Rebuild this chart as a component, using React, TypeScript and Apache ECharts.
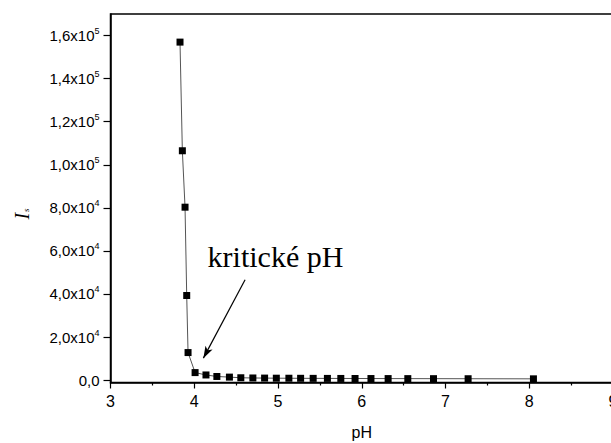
import React, { useEffect, useRef } from "react";
import * as echarts from "echarts";

const phValues = [3.83, 3.858, 3.89, 3.91, 3.926, 4.01, 4.14, 4.27, 4.42, 4.556, 4.7, 4.84, 4.98, 5.13, 5.27, 5.42, 5.59, 5.75, 5.92, 6.11, 6.315, 6.55, 6.857, 7.27, 8.05];
const isValues = [156950, 106500, 80300, 39300, 12800, 3500, 2400, 1700, 1400, 1100, 1000, 950, 900, 880, 850, 820, 800, 780, 760, 740, 720, 700, 680, 650, 600];
const yTickValues = [0, 20000, 40000, 60000, 80000, 100000, 120000, 140000, 160000];
const annotationText = "kritické pH";
const arrowFrom = [4.607, 46580];
const arrowTo = [4.109, 10216];

function formatY(v: number): string {
  if (v === 0) return "{b|0,0}";
  const exp = Math.floor(Math.log10(v));
  const mant = v / Math.pow(10, exp);
  return "{b|" + mant.toFixed(1).replace(".", ",") + "x10}{sup|" + exp + "}";
}

export default function App() {
  const ref = useRef<HTMLDivElement>(null);
  useEffect(() => {
    if (!ref.current) return;
    const chart = echarts.init(ref.current, null, { renderer: "svg" });
    const font = "'Liberation Sans', Arial, sans-serif";
    chart.setOption({
      animation: false,
      backgroundColor: "#fff",
      grid: {
        left: 110.5,
        top: 14,
        right: -2,
        bottom: 60.5,
        show: true,
        borderColor: "#000",
        borderWidth: 1.5,
        containLabel: false,
        outerBoundsMode: "none",
      },
      xAxis: {
        type: "value",
        min: 3,
        max: 9,
        interval: 1,
        name: "pH",
        nameLocation: "middle",
        nameGap: 42,
        nameTextStyle: { fontFamily: font, fontSize: 16, color: "#000" },
        axisLine: { show: true, onZero: false, lineStyle: { color: "#000", width: 1.5 } },
        axisTick: { show: true, inside: false, length: 6, lineStyle: { color: "#000", width: 1.2 } },
        minorTick: { show: true, splitNumber: 2, length: 3, lineStyle: { color: "#000", width: 1.2 } },
        splitLine: { show: false },
        axisLabel: { fontFamily: font, fontSize: 16, color: "#000", margin: 11 },
      },
      yAxis: {
        type: "value",
        min: -1100,
        max: 170000,
        axisLine: { show: true, lineStyle: { color: "#000", width: 1.5 } },
        axisTick: { show: true, inside: false, length: 7, customValues: yTickValues, lineStyle: { color: "#000", width: 1.2 } },
        splitLine: { show: false },
        axisLabel: {
          customValues: yTickValues,
          margin: 11,
          formatter: (v: number) => formatY(v),
          rich: {
            b: { fontFamily: font, fontSize: 15, color: "#000", lineHeight: 18 },
            sup: { fontFamily: font, fontSize: 9, color: "#000", padding: [0, 0, 9, 0] },
          },
        },
      },
      graphic: [
        {
          type: "text",
          x: 275.5,
          y: 256,
          style: {
            text: annotationText,
            fontFamily: "'Liberation Serif', 'Times New Roman', serif",
            fontSize: 30,
            fill: "#000",
            align: "center",
            verticalAlign: "middle",
          },
        },
        {
          type: "text",
          x: 22,
          y: 214,
          rotation: Math.PI / 2,
          style: {
            text: "{i|I}{s|s}",
            align: "center",
            verticalAlign: "middle",
            rich: {
              i: { fontFamily: "'Liberation Serif', serif", fontStyle: "italic", fontSize: 20, fill: "#000", lineHeight: 22 },
              s: { fontFamily: "'Liberation Serif', serif", fontStyle: "italic", fontSize: 9, fill: "#000", padding: [8, 0, 0, 1] },
            },
          },
        },
      ],
      series: [
        {
          type: "line",
          data: phValues.map((x, i) => [x, isValues[i]]),
          symbol: "rect",
          symbolSize: 7,
          itemStyle: { color: "#000" },
          lineStyle: { color: "#555", width: 1 },
          markLine: {
            silent: true,
            symbol: ["none", "arrow"],
            symbolSize: [6, 12],
            label: { show: false },
            lineStyle: { color: "#000", width: 1.2, type: "solid" },
            data: [[{ coord: arrowFrom }, { coord: arrowTo }]],
          },
        },
      ],
    });
    return () => chart.dispose();
  }, []);
  return <div ref={ref} style={{ position: "fixed", left: 0, top: 0, width: 611, height: 443 }} />;
}
